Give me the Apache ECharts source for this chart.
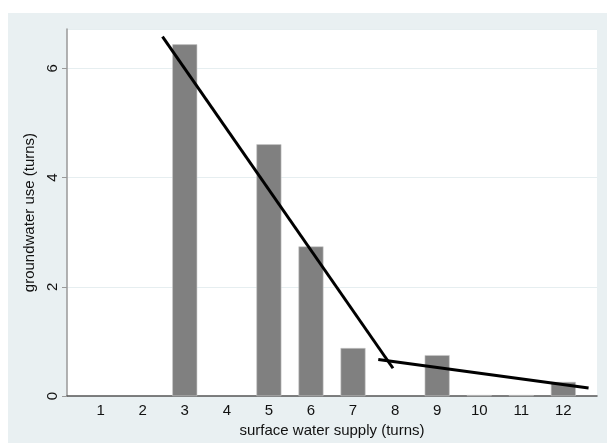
<!DOCTYPE html>
<html><head><meta charset="utf-8">
<script src="https://cdn.jsdelivr.net/npm/echarts@6/dist/echarts.min.js"></script>
<style>html,body{margin:0;padding:0;background:#fff}#c{width:607px;height:443px}</style>
</head><body><div id="c"></div>
<script>
const categories = [1,2,3,4,5,6,7,8,9,10,11,12];
const groundwater = [0,0,6.44,0,4.61,2.74,0.88,0,0.75,0.02,0.02,0.26];
const fitLine1 = [[2.47,6.58],[7.95,0.51]];
const fitLine2 = [[7.6,0.67],[12.6,0.15]];
const yTicks = [0,2,4,6];

const barData = categories.map((c,i)=>[c, groundwater[i] === 0 ? null : groundwater[i]]);
const chart = echarts.init(document.getElementById('c'), null, {renderer:'canvas'});
const font = 'Liberation Sans, Arial, sans-serif';
chart.setOption({
  animation:false,
  backgroundColor:'#ffffff',
  graphic:[{type:'rect', left:8, top:13, shape:{width:599, height:430}, style:{fill:'#e9f0f2'}, z:-10}],
  grid:{left:67, right:10, top:29, bottom:46, show:true, backgroundColor:'#ffffff', borderWidth:0},
  xAxis:{
    type:'value', min:0.2, max:12.8,
    name:'surface water supply (turns)', nameLocation:'middle', nameGap:18,
    nameTextStyle:{fontFamily:font, fontSize:15, color:'#111'},
    axisLine:{show:true, onZero:false, lineStyle:{color:'#555', width:1.5}},
    axisTick:{show:false},
    splitLine:{show:false},
    axisLabel:{customValues:categories, fontFamily:font, fontSize:15, color:'#111', margin:7, formatter:v=>String(v)}
  },
  yAxis:{
    type:'value', min:0, max:6.72, interval:2,
    name:'groundwater use (turns)', nameLocation:'middle', nameGap:26, nameRotate:90,
    nameTextStyle:{fontFamily:font, fontSize:15, color:'#111'},
    axisLine:{show:true, lineStyle:{color:'#999', width:1.5}},
    axisTick:{show:true, length:5, lineStyle:{color:'#999'}},
    splitLine:{show:true, lineStyle:{color:'#e6eef0', width:1}},
    axisLabel:{rotate:90, showMaxLabel:false, fontFamily:font, fontSize:15, color:'#111', margin:7,
      formatter:v=>yTicks.includes(v)?String(v):''}
  },
  series:[
    {type:'bar', data:barData, barWidth:25, itemStyle:{color:'#808080', borderColor:'#c8c8c8', borderWidth:0.6}, z:2},
    {type:'line', data:fitLine1, symbol:'none', lineStyle:{color:'#000', width:3}, z:3},
    {type:'line', data:fitLine2, symbol:'none', lineStyle:{color:'#000', width:3}, z:3}
  ]
});
</script></body></html>
